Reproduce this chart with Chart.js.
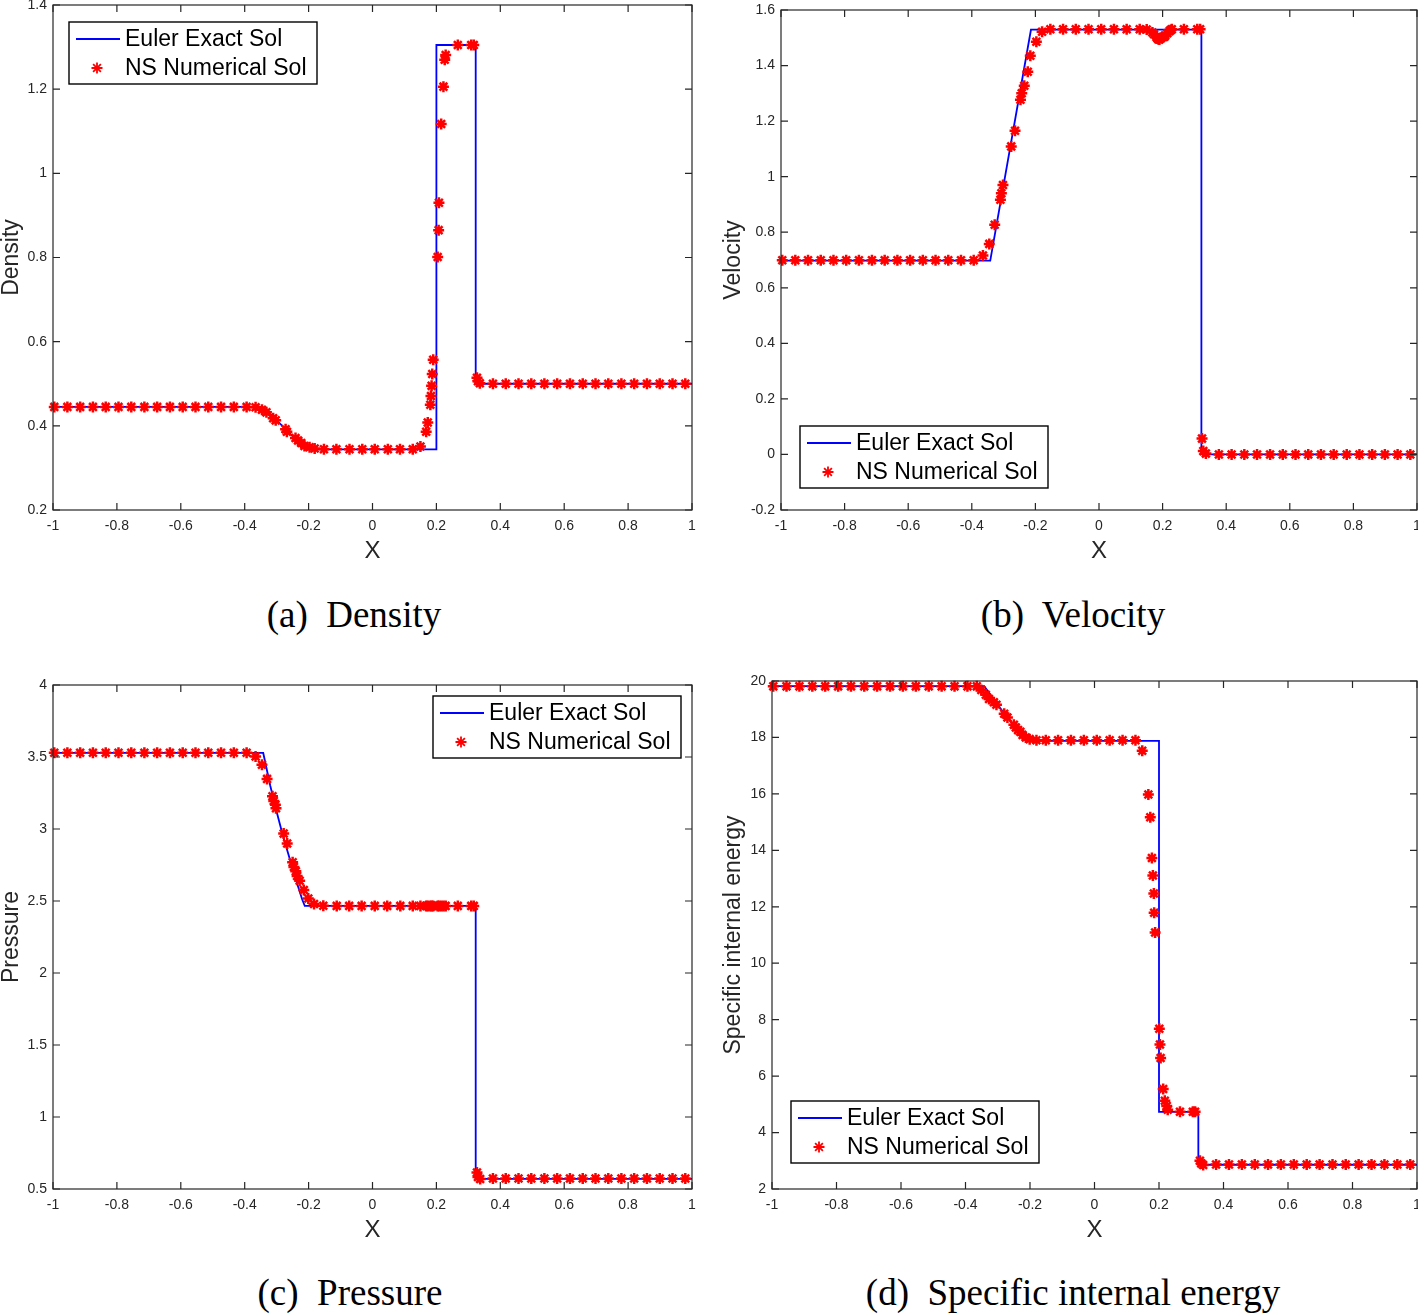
<!DOCTYPE html>
<html><head><meta charset="utf-8">
<script src="https://cdn.jsdelivr.net/npm/chart.js@4.4.1/dist/chart.umd.min.js"></script>
<style>
html,body{margin:0;padding:0;background:#fff;}
body{width:1418px;height:1315px;position:relative;overflow:hidden;}
.panel{position:absolute;}
.cap{position:absolute;font-family:"Liberation Serif",serif;font-size:37px;line-height:36px;text-align:center;color:#000;white-space:pre;}
</style></head><body>
<div class="panel" style="left:0px;top:-3px"><canvas id="cA" width="700" height="578"></canvas></div>
<div class="panel" style="left:720px;top:0px"><canvas id="cB" width="705" height="575"></canvas></div>
<div class="panel" style="left:0px;top:677px"><canvas id="cC" width="700" height="577"></canvas></div>
<div class="panel" style="left:720px;top:673px"><canvas id="cD" width="705" height="581"></canvas></div>
<div class="cap" style="left:154px;top:597px;width:400px">(a)  Density</div>
<div class="cap" style="left:873px;top:597px;width:400px">(b)  Velocity</div>
<div class="cap" style="left:150px;top:1275px;width:400px">(c)  Pressure</div>
<div class="cap" style="left:823px;top:1275px;width:500px">(d)  Specific internal energy</div>
<script>
// ---------- shared ticks ----------
const xTicks = [-1,-0.8,-0.6,-0.4,-0.2,0,0.2,0.4,0.6,0.8,1];
const xTickLabels = ["-1","-0.8","-0.6","-0.4","-0.2","0","0.2","0.4","0.6","0.8","1"];
const seriesNames = ["Euler Exact Sol","NS Numerical Sol"];

// ---------- (a) Density ----------
const densTicks = [0.2,0.4,0.6,0.8,1,1.2,1.4];
const densTickLabels = ["0.2","0.4","0.6","0.8","1","1.2","1.4"];
const densExactX = [-1,-0.344,-0.32,-0.30,-0.28,-0.26,-0.24,-0.22,-0.207,0.2,0.2,0.323,0.323,1];
const densExactY = [0.445,0.445,0.428,0.413,0.398,0.383,0.368,0.354,0.344,0.344,1.305,1.305,0.5,0.5];
const densNumX = [-0.996,-0.955,-0.915,-0.875,-0.835,-0.795,-0.755,-0.714,-0.674,-0.634,-0.594,-0.554,-0.514,-0.474,-0.434,-0.394,
  -0.366,-0.346,-0.332,-0.311,-0.303,-0.272,-0.268,-0.241,-0.233,-0.223,-0.213,-0.197,-0.181,
  -0.152,-0.113,-0.072,-0.032,0.007,0.048,0.086,0.126,
  0.150,0.168,0.173,0.181,0.183,0.185,0.187,0.190,0.204,0.207,0.208,0.215,0.222,0.226,0.229,0.267,0.309,0.317,
  0.327,0.330,0.336,
  0.377,0.417,0.457,0.497,0.538,0.578,0.618,0.658,0.698,0.738,0.779,0.819,0.859,0.899,0.939,0.979];
const densNumY = [0.445,0.445,0.445,0.445,0.445,0.445,0.445,0.445,0.445,0.445,0.445,0.445,0.445,0.445,0.445,0.445,
  0.444,0.438,0.432,0.418,0.413,0.392,0.386,0.371,0.365,0.359,0.352,0.349,0.346,
  0.3445,0.3445,0.3445,0.3445,0.3445,0.3445,0.3445,0.3445,
  0.351,0.386,0.408,0.450,0.471,0.495,0.523,0.557,0.801,0.865,0.930,1.117,1.206,1.270,1.281,1.305,1.305,1.305,
  0.514,0.506,0.501,
  0.5,0.5,0.5,0.5,0.5,0.5,0.5,0.5,0.5,0.5,0.5,0.5,0.5,0.5,0.5,0.5];

// ---------- (b) Velocity ----------
const velTicks = [-0.2,0,0.2,0.4,0.6,0.8,1,1.2,1.4,1.6];
const velTickLabels = ["-0.2","0","0.2","0.4","0.6","0.8","1","1.2","1.4","1.6"];
const velExactX = [-1,-0.342,-0.214,0.322,0.322,1];
const velExactY = [0.698,0.698,1.529,1.529,0,0];
const velNumX = [-0.996,-0.955,-0.915,-0.875,-0.835,-0.795,-0.755,-0.714,-0.674,-0.634,-0.594,-0.554,-0.514,-0.474,-0.434,-0.394,
  -0.365,-0.345,-0.328,-0.310,-0.307,-0.302,-0.276,-0.264,-0.247,-0.243,-0.235,-0.224,-0.216,-0.197,-0.179,-0.153,
  -0.113,-0.073,-0.033,0.007,0.047,0.087,0.128,
  0.150,0.168,0.173,0.181,0.183,0.185,0.187,0.190,0.204,0.207,0.208,0.215,0.222,0.226,0.229,0.267,0.309,0.318,
  0.324,0.328,0.336,
  0.377,0.417,0.457,0.497,0.538,0.578,0.618,0.658,0.698,0.738,0.779,0.819,0.859,0.899,0.939,0.979];
const velNumY = [0.699,0.699,0.699,0.699,0.699,0.699,0.699,0.699,0.699,0.699,0.699,0.699,0.699,0.699,0.699,0.699,
  0.716,0.758,0.827,0.917,0.940,0.970,1.109,1.165,1.277,1.300,1.327,1.378,1.435,1.486,1.522,1.531,
  1.531,1.531,1.531,1.531,1.531,1.531,1.531,
  1.530,1.519,1.513,1.503,1.500,1.497,1.495,1.494,1.503,1.506,1.508,1.516,1.524,1.528,1.531,1.531,1.531,1.531,
  0.057,0.012,0.003,
  0,0,0,0,0,0,0,0,0,0,0,0,0,0,0,0];

// ---------- (c) Pressure ----------
const presTicks = [0.5,1,1.5,2,2.5,3,3.5,4];
const presTickLabels = ["0.5","1","1.5","2","2.5","3","3.5","4"];
const presExactX = [-1,-0.342,-0.32,-0.30,-0.28,-0.26,-0.24,-0.22,-0.212,0.323,0.323,1];
const presExactY = [3.528,3.528,3.30,3.12,2.95,2.80,2.65,2.51,2.466,2.466,0.571,0.571];
const presNumX = [-0.996,-0.955,-0.915,-0.875,-0.835,-0.795,-0.755,-0.714,-0.674,-0.634,-0.594,-0.554,-0.514,-0.474,-0.434,-0.394,
  -0.366,-0.346,-0.330,-0.313,-0.309,-0.304,-0.302,-0.278,-0.267,-0.250,-0.246,-0.240,-0.236,-0.228,-0.215,-0.201,-0.183,-0.154,
  -0.112,-0.073,-0.034,0.007,0.046,0.087,0.126,
  0.150,0.168,0.173,0.181,0.185,0.190,0.204,0.208,0.215,0.222,0.229,0.267,0.309,0.317,
  0.327,0.330,0.337,
  0.377,0.417,0.457,0.497,0.538,0.578,0.618,0.658,0.698,0.738,0.779,0.819,0.859,0.899,0.939,0.979];
const presNumY = [3.529,3.529,3.529,3.529,3.529,3.529,3.529,3.529,3.529,3.529,3.529,3.529,3.529,3.529,3.529,3.529,
  3.504,3.446,3.348,3.227,3.194,3.169,3.144,2.968,2.900,2.769,2.736,2.706,2.673,2.640,2.577,2.517,2.479,2.467,
  2.466,2.466,2.466,2.466,2.466,2.466,2.466,
  2.466,2.466,2.466,2.466,2.466,2.466,2.466,2.466,2.466,2.466,2.466,2.466,2.466,2.466,
  0.615,0.583,0.570,
  0.573,0.573,0.573,0.573,0.573,0.573,0.573,0.573,0.573,0.573,0.573,0.573,0.573,0.573,0.573,0.573];

// ---------- (d) Specific internal energy ----------
const enerTicks = [2,4,6,8,10,12,14,16,18,20];
const enerTickLabels = ["2","4","6","8","10","12","14","16","18","20"];
const enerExactX = [-1,-0.342,-0.28,-0.213,0.2,0.2,0.322,0.322,1];
const enerExactY = [19.82,19.82,18.85,17.88,17.88,4.73,4.73,2.86,2.86];
const enerNumX = [-0.996,-0.955,-0.915,-0.875,-0.835,-0.795,-0.755,-0.714,-0.674,-0.634,-0.594,-0.554,-0.514,-0.474,-0.434,-0.394,
  -0.365,-0.351,-0.337,-0.327,-0.312,-0.304,-0.280,-0.270,-0.250,-0.244,-0.237,-0.230,-0.223,-0.213,-0.201,-0.180,
  -0.151,-0.113,-0.073,-0.033,0.007,0.047,0.087,0.127,
  0.148,0.167,0.173,0.178,0.181,0.184,0.185,0.188,0.201,0.203,0.205,0.213,0.218,0.224,0.227,0.265,0.305,0.312,
  0.327,0.331,0.337,
  0.377,0.417,0.457,0.497,0.538,0.578,0.618,0.658,0.698,0.738,0.779,0.819,0.859,0.899,0.939,0.979];
const enerNumY = [19.81,19.81,19.81,19.81,19.81,19.81,19.81,19.81,19.81,19.81,19.81,19.81,19.81,19.81,19.81,19.81,
  19.81,19.68,19.51,19.36,19.25,19.16,18.84,18.71,18.45,18.35,18.26,18.20,18.09,18.00,17.94,17.90,
  17.90,17.90,17.90,17.90,17.90,17.90,17.90,17.90,
  17.53,15.98,15.17,13.73,13.11,12.47,11.79,11.09,7.68,7.12,6.64,5.54,5.13,4.94,4.81,4.74,4.74,4.74,
  3.00,2.90,2.85,
  2.87,2.87,2.87,2.87,2.87,2.87,2.87,2.87,2.87,2.87,2.87,2.87,2.87,2.87,2.87,2.87];

// ---------- drawing ----------
const AX = '#262626';
const SANS = '"Liberation Sans", Arial, sans-serif';
function pts(xs, ys){ return xs.map((x,i)=>({x:x, y:ys[i]})); }
function lab(list, labels){ return (v)=>{ const i=list.findIndex(t=>Math.abs(t-v)<1e-9); return i>=0?labels[i]:''; }; }

function framePlugin(){
  return { id:'frame', afterDraw(chart){
    const a=chart.chartArea, ctx=chart.ctx, sx=chart.scales.x, sy=chart.scales.y;
    ctx.save();
    ctx.strokeStyle=AX; ctx.lineWidth=1.2;
    ctx.strokeRect(a.left, a.top, a.right-a.left, a.bottom-a.top);
    const L=7;
    ctx.beginPath();
    sx.ticks.forEach(t=>{ const p=sx.getPixelForValue(t.value);
      ctx.moveTo(p,a.bottom); ctx.lineTo(p,a.bottom-L);
      ctx.moveTo(p,a.top); ctx.lineTo(p,a.top+L); });
    sy.ticks.forEach(t=>{ const p=sy.getPixelForValue(t.value);
      ctx.moveTo(a.left,p); ctx.lineTo(a.left+L,p);
      ctx.moveTo(a.right,p); ctx.lineTo(a.right-L,p); });
    ctx.stroke();
    ctx.restore();
  }};
}
function legendPlugin(pos){
  return { id:'mlegend', afterDraw(chart){
    const a=chart.chartArea, ctx=chart.ctx;
    const W=248, H=62;
    let bx, by;
    if(pos.h==='left') bx=a.left+pos.dx; else bx=a.right-pos.dx-W;
    if(pos.v==='top') by=a.top+pos.dy; else by=a.bottom-pos.dy-H;
    ctx.save();
    ctx.fillStyle='#fff'; ctx.fillRect(bx,by,W,H);
    ctx.strokeStyle='#000'; ctx.lineWidth=1.4; ctx.strokeRect(bx,by,W,H);
    ctx.strokeStyle='#0000ff'; ctx.lineWidth=1.8;
    ctx.beginPath(); ctx.moveTo(bx+7,by+17); ctx.lineTo(bx+51,by+17); ctx.stroke();
    ctx.strokeStyle='#ff0000'; ctx.fillStyle='#ff0000';
    Chart.helpers.drawPoint(ctx,{pointStyle:'star',radius:5.5,borderWidth:2.5,rotation:0},bx+28,by+46);
    ctx.fillStyle='#000'; ctx.font='23px '+SANS;
    ctx.textBaseline='middle'; ctx.textAlign='left';
    const ds=chart.data.datasets;
    ctx.fillText(ds[0].label,bx+56,by+18);
    ctx.fillText(ds[1].label,bx+56,by+47);
    ctx.restore();
  }};
}

function makeChart(id, o){
  const ctx=document.getElementById(id);
  return new Chart(ctx,{
    type:'scatter',
    data:{datasets:[
      {label:seriesNames[0], data:pts(o.ex,o.ey), showLine:true, borderColor:'#0000ff', borderWidth:1.8,
       pointRadius:0, pointHoverRadius:0, fill:false, tension:0, order:1},
      {label:seriesNames[1], data:pts(o.nx,o.ny), showLine:false, pointStyle:'star', pointRadius:5.5,
       pointBorderWidth:2.5, borderColor:'#ff0000', backgroundColor:'#ff0000', clip:false, order:0}
    ]},
    options:{
      responsive:false, animation:false, events:[],
      layout:{padding:{top:o.padTop,right:o.padRight,left:0,bottom:0}},
      plugins:{legend:{display:false}, tooltip:{enabled:false}},
      scales:{
        x:{type:'linear', min:-1, max:1,
           afterBuildTicks:(s)=>{ s.ticks=xTicks.map(v=>({value:v})); },
           afterFit:(s)=>{ s.height=65; s.paddingLeft=0; s.paddingRight=0; s.paddingTop=0; s.paddingBottom=0; },
           grid:{display:false, drawTicks:false}, border:{display:false},
           ticks:{autoSkip:false, maxRotation:0, padding:8, color:AX,
                  font:{family:SANS, size:14}, callback:lab(xTicks,xTickLabels)},
           title:{display:true, text:'X', color:AX, padding:{top:0,bottom:12},
                  font:{family:SANS, size:24, lineHeight:1}}},
        y:{type:'linear', min:o.ymin, max:o.ymax,
           afterBuildTicks:(s)=>{ s.ticks=o.yt.map(v=>({value:v})); },
           afterFit:(s)=>{ s.width=o.yWidth; s.paddingLeft=0; s.paddingRight=0; s.paddingTop=0; s.paddingBottom=0; },
           grid:{display:false, drawTicks:false}, border:{display:false},
           ticks:{autoSkip:false, padding:6, color:AX,
                  font:{family:SANS, size:14}, callback:lab(o.yt,o.yl)},
           title:{display:true, text:o.ytitle, color:AX, padding:{top:o.titlePad,bottom:0},
                  font:{family:SANS, size:23, lineHeight:1}}}
      }
    },
    plugins:[framePlugin(), legendPlugin(o.leg)]
  });
}

makeChart('cA',{ex:densExactX,ey:densExactY,nx:densNumX,ny:densNumY,ymin:0.2,ymax:1.4,yt:densTicks,yl:densTickLabels,
  ytitle:'Density',padTop:8,padRight:8,yWidth:53,titlePad:0,leg:{h:'left',v:'top',dx:16,dy:17}});
makeChart('cB',{ex:velExactX,ey:velExactY,nx:velNumX,ny:velNumY,ymin:-0.2,ymax:1.6,yt:velTicks,yl:velTickLabels,
  ytitle:'Velocity',padTop:10,padRight:8,yWidth:61,titlePad:2,leg:{h:'left',v:'bottom',dx:19,dy:22}});
makeChart('cC',{ex:presExactX,ey:presExactY,nx:presNumX,ny:presNumY,ymin:0.5,ymax:4,yt:presTicks,yl:presTickLabels,
  ytitle:'Pressure',padTop:8,padRight:8,yWidth:53,titlePad:0,leg:{h:'right',v:'top',dx:11,dy:11}});
makeChart('cD',{ex:enerExactX,ey:enerExactY,nx:enerNumX,ny:enerNumY,ymin:2,ymax:20,yt:enerTicks,yl:enerTickLabels,
  ytitle:'Specific internal energy',padTop:8,padRight:8,yWidth:52,titlePad:2,leg:{h:'left',v:'bottom',dx:19,dy:26}});
</script>
</body></html>
